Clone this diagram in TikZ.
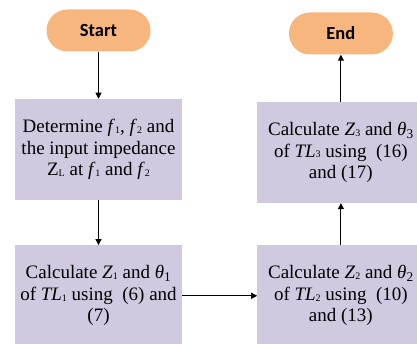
\documentclass[tikz,border=0pt]{standalone}
\usepackage{fontspec}
\setmainfont{Liberation Serif}
\newfontfamily\pillfont{Carlito}
\usetikzlibrary{positioning,arrows.meta}
\definecolor{boxfill}{RGB}{209,201,224}
\definecolor{pillfill}{RGB}{248,182,127}
\newcommand{\sbs}[1]{\raisebox{-0.8pt}{\fontsize{10}{10}\selectfont #1}}   % small subscript as in the figure

\begin{document}
\begin{tikzpicture}[x=1pt, y=1pt,
      node distance=45pt and 75pt,                       % vertical and horizontal gaps
      box/.style={fill=boxfill, align=center, minimum width=167pt, minimum height=101pt,
                  inner sep=0pt, font=\fontsize{19}{21.5}\selectfont},  % one box per step
      pill/.style={fill=pillfill, rounded corners=21pt, minimum width=104pt, minimum height=42pt,
                   inner sep=0pt, font=\pillfont\bfseries\fontsize{18.5}{20}\selectfont},
      arr/.style={-{Triangle[length=6pt, width=6pt]}, line width=0.9pt}]  % arrow style
    \useasboundingbox (0,0) rectangle (417,-344);
    \node[pill] (start) at (98.5,-30.5) {Start};
    \node[box, below=47pt of start] (det) {Determine \textit{f}\sbs{1}, \textit{f}\sbs{2} and\\the input impedance\\Z\sbs{L} at \textit{f}\sbs{1} and \textit{f}\sbs{2}};
    \node[box, below=of det] (calcA) {Calculate \textit{Z}\sbs{1} and \textit{θ}\textsubscript{1}\\of \textit{TL}\sbs{1} using~ (6) and\\(7)};
    \node[box, right=of calcA] (calcB) {Calculate \textit{Z}\sbs{2} and \textit{θ}\textsubscript{2}\\of \textit{TL}\sbs{2} using~ (10)\\and (13)};
    \node[box, above=42pt of calcB] (calcC) {Calculate \textit{Z}\sbs{3} and \textit{θ}\textsubscript{3}\\of \textit{TL}\sbs{3} using~ (16)\\and (17)};
    \node[pill, above=47pt of calcC] (end) {End};
    \draw[arr] (start) -- (det);                         % start the procedure
    \draw[arr] (det) -- (calcA);                         % first line
    \draw[arr] (calcA) -- (calcB);                       % second line
    \draw[arr] (calcB) -- (calcC);                       % third line
    \draw[arr] (calcC) -- (end);                         % done
  \end{tikzpicture}
\end{document}
